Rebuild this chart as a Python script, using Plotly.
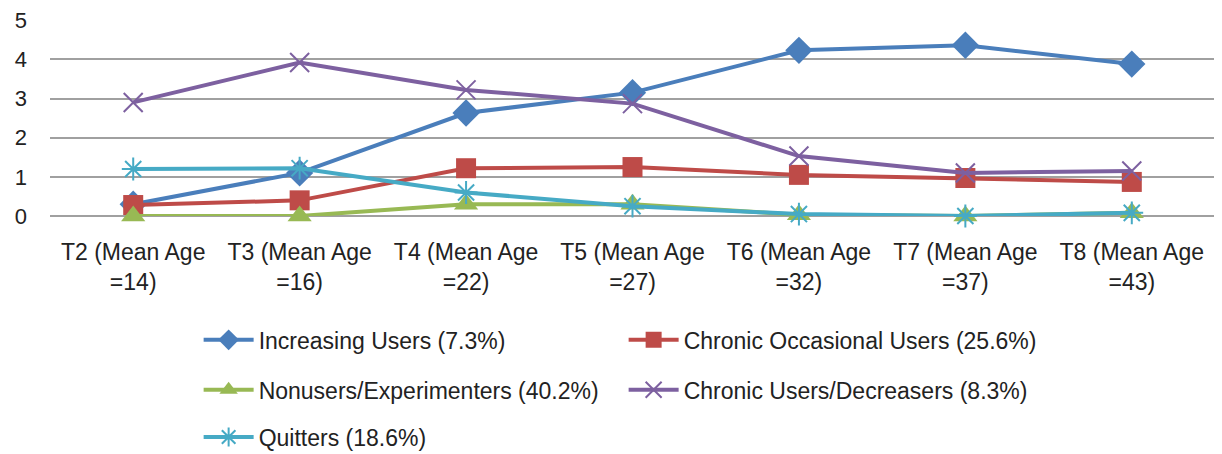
import plotly.graph_objects as go

categories = ["T2 (Mean Age<br>=14)", "T3 (Mean Age<br>=16)", "T4 (Mean Age<br>=22)",
              "T5 (Mean Age<br>=27)", "T6 (Mean Age<br>=32)", "T7 (Mean Age<br>=37)",
              "T8 (Mean Age<br>=43)"]
increasing = [0.30, 1.10, 2.63, 3.15, 4.23, 4.36, 3.88]
chronic_occasional = [0.28, 0.40, 1.22, 1.25, 1.05, 0.97, 0.87]
nonusers = [0.00, 0.00, 0.30, 0.30, 0.03, 0.00, 0.08]
chronic_users = [2.90, 3.92, 3.22, 2.87, 1.53, 1.10, 1.15]
quitters = [1.20, 1.22, 0.60, 0.25, 0.05, 0.00, 0.08]
y_ticks = [0, 1, 2, 3, 4, 5]

names = ["Increasing Users (7.3%)", "Chronic Occasional Users (25.6%)",
         "Nonusers/Experimenters (40.2%)", "Chronic Users/Decreasers (8.3%)",
         "Quitters (18.6%)"]
colors = ["#4A7EBB", "#BE4B48", "#98B954", "#7D60A0", "#46AAC5"]
symbols = ["diamond", "square", "triangle-up", "x-thin-open", "asterisk-open"]
sizes = [21, 20, 21, 19, 19]
legends = ["legend", "legend", "legend2", "legend2", "legend3"]
series = [increasing, chronic_occasional, nonusers, chronic_users, quitters]

FONT = "Liberation Sans, Arial, sans-serif"

fig = go.Figure()
for name, vals, c, s, sz, lg in zip(names, series, colors, symbols, sizes, legends):
    open_sym = s.endswith("open")
    fig.add_trace(go.Scatter(
        x=categories, y=vals, name=name, mode="lines+markers",
        line=dict(color=c, width=4),
        marker=dict(symbol=s, size=sz, color=c,
                    line=dict(color=c, width=2 if open_sym else 0)),
        legend=lg, cliponaxis=False,
    ))

leg_common = dict(orientation="h", entrywidth=360, entrywidthmode="pixels",
                  font=dict(family=FONT, size=23, color="#222"),
                  xref="container", yref="container",
                  xanchor="left", yanchor="middle", x=0.156,
                  bgcolor="rgba(0,0,0,0)", itemwidth=50)

fig.update_layout(
    width=1222, height=454,
    margin=dict(l=42, r=15, t=12, b=246, autoexpand=False),
    plot_bgcolor="white", paper_bgcolor="white",
    font=dict(family=FONT, size=22, color="#222"),
    xaxis=dict(type="category", range=[-0.5, 6.5], showgrid=False,
               showline=False, ticks="", ticklabelstandoff=20,
               tickfont=dict(family=FONT, size=23)),
    yaxis=dict(range=[0, 5.005], tickmode="array", tickvals=y_ticks,
               showgrid=True, gridcolor="#A0A0A0", ticklabeloverflow="allow",
               gridwidth=1.5, zeroline=True, zerolinecolor="#A0A0A0",
               zerolinewidth=1.5, showline=False, ticks="",
               ticklabelstandoff=22, tickfont=dict(family=FONT, size=22)),
    legend=dict(y=0.269, **leg_common),
    legend2=dict(y=0.159, **leg_common),
    legend3=dict(y=0.055, **leg_common),
)

fig.write_html("out.html")
